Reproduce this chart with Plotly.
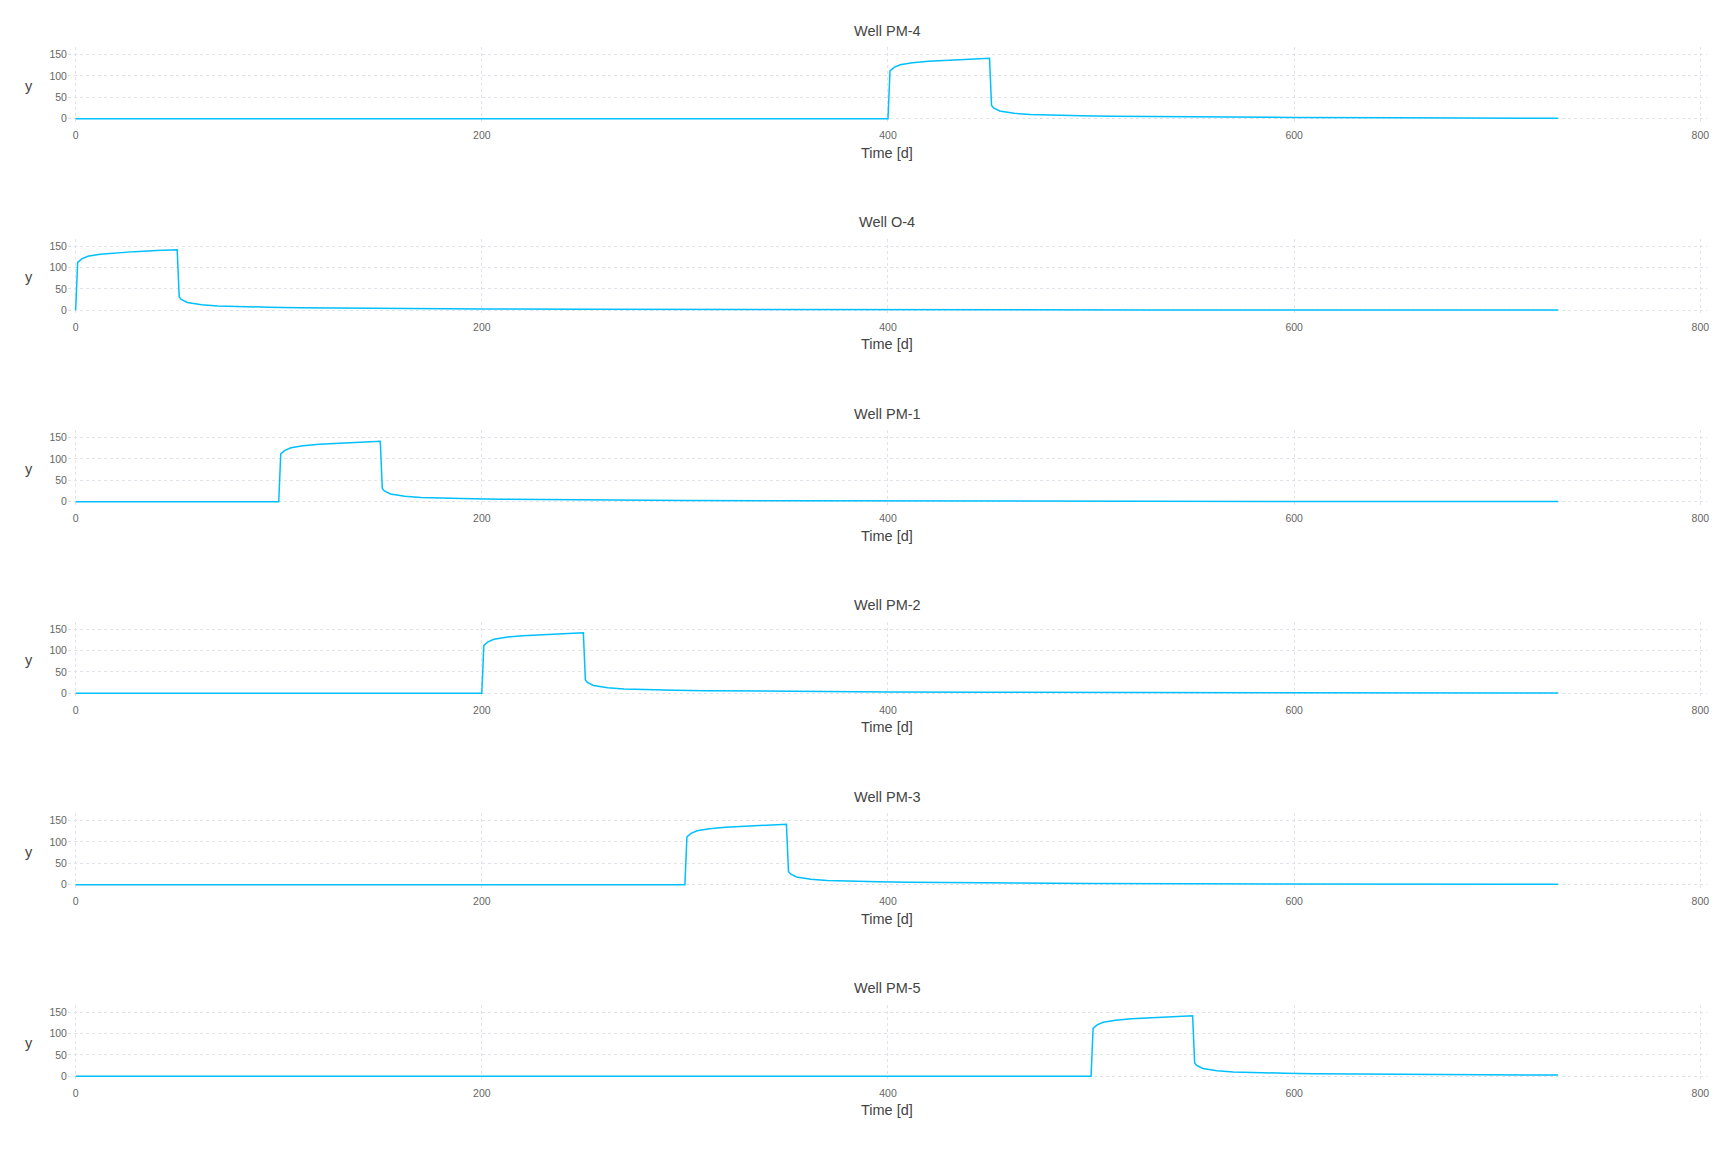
import plotly.graph_objects as go

# ---------------- data ----------------
well_names = ["Well PM-4", "Well O-4", "Well PM-1", "Well PM-2", "Well PM-3", "Well PM-5"]

t_pm4 = [0, 400, 401, 403, 406, 412, 420, 429, 440, 450, 451, 452, 455, 462, 470, 478, 495, 510, 545, 600, 650, 730]
v_pm4 = [0, 0, 112, 120, 126, 131, 134.5, 137, 139.5, 141.5, 31, 25, 18, 12.5, 10, 8.5, 7, 6, 4.5, 3, 2, 1.1]

t_o4 = [0, 1, 3, 6, 12, 20, 29, 40, 50, 51, 52, 55, 62, 70, 78, 95, 110, 145, 200, 250, 330, 430, 530, 630, 730]
v_o4 = [0, 112, 120, 126, 131, 134.5, 137, 139.5, 141.5, 31, 25, 18, 12.5, 10, 8.5, 7, 6, 4.5, 3, 2, 1.2, 0.8, 0.5, 0.3, 0.2]

t_pm1 = [0, 100, 101, 103, 106, 112, 120, 129, 140, 150, 151, 152, 155, 162, 170, 178, 195, 210, 245, 300, 350, 430, 530, 630, 730]
v_pm1 = [0, 0, 112, 120, 126, 131, 134.5, 137, 139.5, 141.5, 31, 25, 18, 12.5, 10, 8.5, 7, 6, 4.5, 3, 2, 1.2, 0.8, 0.5, 0.3]

t_pm2 = [0, 200, 201, 203, 206, 212, 220, 229, 240, 250, 251, 252, 255, 262, 270, 278, 295, 310, 345, 400, 450, 530, 630, 730]
v_pm2 = [0, 0, 112, 120, 126, 131, 134.5, 137, 139.5, 141.5, 31, 25, 18, 12.5, 10, 8.5, 7, 6, 4.5, 3, 2, 1.2, 0.8, 0.5]

t_pm3 = [0, 300, 301, 303, 306, 312, 320, 329, 340, 350, 351, 352, 355, 362, 370, 378, 395, 410, 445, 500, 550, 630, 730]
v_pm3 = [0, 0, 112, 120, 126, 131, 134.5, 137, 139.5, 141.5, 31, 25, 18, 12.5, 10, 8.5, 7, 6, 4.5, 3, 2, 1.2, 0.8]

t_pm5 = [0, 500, 501, 503, 506, 512, 520, 529, 540, 550, 551, 552, 555, 562, 570, 578, 595, 610, 645, 700, 730]
v_pm5 = [0, 0, 112, 120, 126, 131, 134.5, 137, 139.5, 141.5, 31, 25, 18, 12.5, 10, 8.5, 7, 6, 4.5, 3, 2.5]

series_t = [t_pm4, t_o4, t_pm1, t_pm2, t_pm3, t_pm5]
series_v = [v_pm4, v_o4, v_pm1, v_pm2, v_pm3, v_pm5]

x_ticks = [0, 200, 400, 600, 800]
y_ticks = [0, 50, 100, 150]
x_title = "Time [d]"
y_title = "y"

# ---------------- layout ----------------
W, H = 1728, 1152
LEFT, RIGHT = 68, 1709
TOP0, BOT0, STEP = 47.3, 122.0, 192.0
LINE_COLOR = "#00BFFF"
GRID = "#e2e2ea"
FONT = "Liberation Sans, Arial, Helvetica, sans-serif"

fig = go.Figure()
annotations = []
layout = {}
for i, (name, t, v) in enumerate(zip(well_names, series_t, series_v)):
    n = "" if i == 0 else str(i + 1)
    top = TOP0 + STEP * i
    bot = BOT0 + STEP * i
    fig.add_trace(go.Scatter(
        x=t, y=v, mode="lines", name=name, showlegend=False,
        line=dict(color=LINE_COLOR, width=1.5),
        xaxis="x" + n, yaxis="y" + n,
    ))
    layout["xaxis" + n] = dict(
        domain=[LEFT / W, RIGHT / W], range=[-3.8, 803.3], anchor="y" + n,
        tickvals=x_ticks, ticks="", showline=False, zeroline=False,
        showgrid=True, gridcolor=GRID, griddash="dot", gridwidth=1,
        ticklabelstandoff=6,
        tickfont=dict(size=10.5, color="#666666", family=FONT),
    )
    layout["yaxis" + n] = dict(
        domain=[1 - bot / H, 1 - top / H], range=[-7, 167.3], anchor="x" + n,
        tickvals=y_ticks, ticks="", showline=False, zeroline=False,
        showgrid=True, gridcolor=GRID, griddash="dot", gridwidth=1,
        tickfont=dict(size=10.5, color="#666666", family=FONT),
    )
    cx = (LEFT + RIGHT) / 2 / W
    annotations.append(dict(text=name, x=cx, y=1 - (31 + STEP * i) / H, xref="paper", yref="paper",
                            showarrow=False, xanchor="center", yanchor="middle",
                            font=dict(size=14.5, color="#444444", family=FONT)))
    annotations.append(dict(text=x_title, x=cx, y=1 - (153 + STEP * i) / H, xref="paper", yref="paper",
                            showarrow=False, xanchor="center", yanchor="middle",
                            font=dict(size=14.5, color="#444444", family=FONT)))
    annotations.append(dict(text=y_title, x=29 / W, y=1 - (86 + STEP * i) / H, xref="paper", yref="paper",
                            showarrow=False, xanchor="center", yanchor="middle",
                            font=dict(size=14.5, color="#444444", family=FONT)))

fig.update_layout(
    width=W, height=H, autosize=False,
    margin=dict(l=0, r=0, t=0, b=0),
    paper_bgcolor="white", plot_bgcolor="white",
    annotations=annotations,
    font=dict(family=FONT),
    **layout,
)

fig.write_html("out.html")
